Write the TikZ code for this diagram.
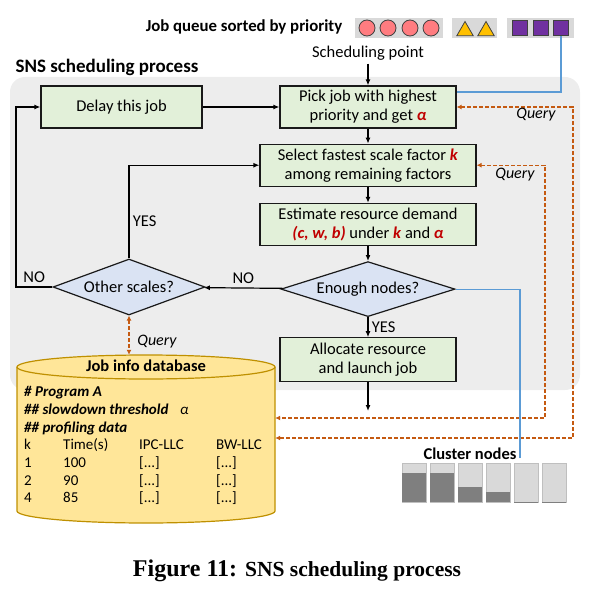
\documentclass[tikz,border=0pt]{standalone}
\usepackage{fontspec}
\setmainfont{Carlito}
\newfontfamily\captionfont{Liberation Serif}
\usetikzlibrary{arrows.meta,positioning,shapes.geometric}

\definecolor{bggray}{HTML}{EDEDED}
\definecolor{boxgreen}{HTML}{E2F0D9}
\definecolor{decblue}{HTML}{DAE3F3}
\definecolor{queryorange}{HTML}{C55A11}
\definecolor{linkblue}{HTML}{5B9BD5}
\definecolor{varred}{HTML}{C00000}
\definecolor{dbfill}{HTML}{FFE699}
\definecolor{dbedge}{HTML}{BF9000}
\definecolor{slotgray}{HTML}{D9D9D9}
\definecolor{jobcoral}{HTML}{FF7C80}
\definecolor{jobyellow}{HTML}{FFC000}
\definecolor{jobpurple}{HTML}{7030A0}
\definecolor{freegray}{HTML}{D9D9D9}
\definecolor{usedgray}{HTML}{7F7F7F}
\definecolor{servedge}{HTML}{BFBFBF}

\newcommand{\var}[1]{\textcolor{varred}{\textbf{\textit{#1}}}}

\begin{document}
\begin{tikzpicture}[x=1pt, y=-1pt,
    every node/.style={font=\fontsize{16.5}{19}\selectfont},
    proc/.style={
      draw=black!90, line width=1.2pt,
      fill=boxgreen, align=center,
      minimum height=42pt, inner sep=2pt
    },
    decision/.style={
      diamond, draw=black!90, line width=1.2pt,
      fill=decblue, align=center, inner sep=0pt
    },
    arrow/.style={-{Latex[length=6pt,width=5pt]}, line width=1.2pt},
    query/.style={{Latex[length=5pt,width=5pt]}-{Latex[length=5pt,width=5pt]},
      draw=queryorange, line width=1.3pt, dash pattern=on 4pt off 2pt},
    link/.style={draw=linkblue, line width=1.2pt},
    querylabel/.style={font=\fontsize{16}{19}\selectfont\itshape},
    heading/.style={font=\fontsize{16.8}{19}\selectfont\bfseries},
    dbtext/.style={font=\fontsize{15}{17}\selectfont, anchor=base west, inner sep=0pt},
    slot/.style={fill=slotgray, inner sep=0pt, minimum height=20pt},
    jobcirc/.style={circle, draw=black!75, line width=0.8pt, fill=jobcoral,
      minimum size=16pt, inner sep=0pt},
    jobtri/.style={regular polygon, regular polygon sides=3, draw=black!75,
      line width=0.8pt, fill=jobyellow, minimum size=19pt, inner sep=0pt},
    jobsq/.style={draw=black!75, line width=0.8pt, fill=jobpurple,
      minimum size=15pt, inner sep=0pt},
    server/.style={draw=servedge, line width=1pt, fill=freegray,
      minimum width=24pt, minimum height=39pt, inner sep=0pt}
  ]
  \useasboundingbox (0,0) rectangle (590,596);

  \fill[bggray, rounded corners=15pt] (10,77) rectangle (580,390);
  \node[font=\fontsize{19}{22}\selectfont\bfseries, anchor=west] (sns) at (12,67) {SNS scheduling process};

  % job queue
  \node[heading] (queuelabel) at (244,27) {Job queue sorted by priority};
  \node[slot, minimum width=88pt] (slotA) at (399,28) {};
  \node[slot, minimum width=45pt] (slotB) at (474.5,28) {};
  \node[slot, minimum width=67pt] (slotC) at (540.5,28) {};
  \foreach \x in {367,388,410,431}
    \node[jobcirc] at (\x,28) {};
  \foreach \x in {465,486}
    \node[jobtri] at (\x,31) {};
  \node[jobsq] (sqA) at (520,28) {};
  \node[jobsq] (sqB) at (541,28) {};
  \node[jobsq] (sqC) at (561,28) {};

  \node (sched) at (368,53) {Scheduling point};

  % flow
  \node[proc, minimum width=176pt] (pick) at (368,107)
    {Pick job with highest\\priority and get \var{α}};
  \node[proc, minimum width=161pt] (delay) at (121.5,107) {Delay this job};
  \node[proc, minimum width=216pt, below=15pt of pick] (select)
    {Select fastest scale factor \var{k}\\among remaining factors};
  \node[proc, minimum width=216pt, below=16pt of select] (estimate)
    {Estimate resource demand\\\var{(c, w, b)} under \var{k} and \var{α}};
  \node[decision, aspect=3.16, minimum width=174pt, minimum height=55pt, below=15pt of estimate] (enough)
    {Enough nodes?};
  \node[decision, aspect=2.7, minimum width=152pt, minimum height=56pt] (other) at (129,287)
    {Other scales?};
  \node[proc, minimum width=176pt, minimum height=44pt, below=20pt of enough] (alloc)
    {Allocate resource\\and launch job};

  \coordinate (loopleft) at (16,287);
  \coordinate (launchend) at (368,411);

  \draw[arrow] (sched) -- (pick);
  \draw[arrow] (delay) -- (pick);
  \draw[arrow] (pick) -- (select);
  \draw[arrow] (select) -- (estimate);
  \draw[arrow] (estimate) -- (enough);
  \draw[arrow] (enough) -- node[right] {YES} (alloc);
  \draw[arrow] (enough) -- node[above] {NO} (other);
  \draw[arrow] (other.north) |- node[pos=0.2, right] {YES} (select.west);
  \draw[arrow] (other.west) -- node[above] {NO} (loopleft) |- (delay.west);
  \draw[arrow] (alloc) -- (launchend);

  % database
  \filldraw[fill=dbfill, draw=dbedge, line width=1.2pt]
    (17,367) -- (17,511) arc[start angle=180, end angle=0, x radius=129, y radius=12] -- (275,367);
  \filldraw[fill=dbfill, draw=dbedge, line width=1.2pt]
    (146,367) ellipse [x radius=129, y radius=12];
  \node[minimum width=258pt, minimum height=168pt, inner sep=0pt] (db) at (146,439) {};
  \node[font=\fontsize{16.5}{19}\selectfont\bfseries] (dbtitle) at (146,366) {Job info database};
  \node[dbtext, font=\fontsize{15}{17}\selectfont\bfseries\itshape] (prog) at (24,396) {\# Program A};
  \node[dbtext, font=\fontsize{15}{17}\selectfont\bfseries\itshape] (slow) at (24,414) {\#\# slowdown threshold};
  \node[dbtext, font=\fontsize{15}{17}\selectfont\itshape] (alpha) at (180,414) {α};
  \node[dbtext, font=\fontsize{15}{17}\selectfont\bfseries\itshape] (prof) at (24,432) {\#\# profiling data};
  \node[dbtext] (hk) at (24,449) {k};
  \node[dbtext] (htime) at (63,449) {Time(s)};
  \node[dbtext] (hipc) at (139,449) {IPC-LLC};
  \node[dbtext] (hbw) at (216,449) {BW-LLC};
  \foreach \k/\t/\y in {1/100/467, 2/90/485, 4/85/502} {
    \node[dbtext] at (24,\y) {\k};
    \node[dbtext] at (63,\y) {\t};
    \node[dbtext] at (139,\y) {[...]};
    \node[dbtext] at (216,\y) {[...]};
  }

  % queries
  \coordinate (qinner) at (545,418);
  \coordinate (qouter) at (573,438);
  \draw[query] (select.east) -| (qinner) -- (qinner -| db.east);
  \draw[query] (pick.east) -| (qouter) -- (qouter -| db.east);
  \draw[query] (other.south) -- (other.south |- db.north);
  \node[querylabel] (qpick) at (536,115) {Query};
  \node[querylabel] (qselect) at (515,175) {Query};
  \node[querylabel] (qother) at (157,342) {Query};

  % cluster
  \node[font=\fontsize{16.5}{19}\selectfont\bfseries] (clabel) at (470,454) {Cluster nodes};
  \foreach \i/\used in {1/30,2/30,3/16,4/11,5/0,6/0} {
    \node[server] (serv\i) at ({386+28*\i},482.5) {};
    \fill[usedgray] ([shift={(0.5pt,0.5pt)}]serv\i.south west)
      rectangle ([shift={(-0.5pt,\used pt)}]serv\i.south east);
  }

  \draw[link] (sqC.south) |- ([yshift=15pt]pick.east);
  \draw[link] (enough.east) -| ([yshift=-4pt]clabel.east);

  \node[font=\captionfont\bfseries\fontsize{24}{28}\selectfont] (caption) at (297,571)
    {Figure 11: {\fontsize{21.5}{25}\selectfont SNS scheduling process}};
\end{tikzpicture}
\end{document}
